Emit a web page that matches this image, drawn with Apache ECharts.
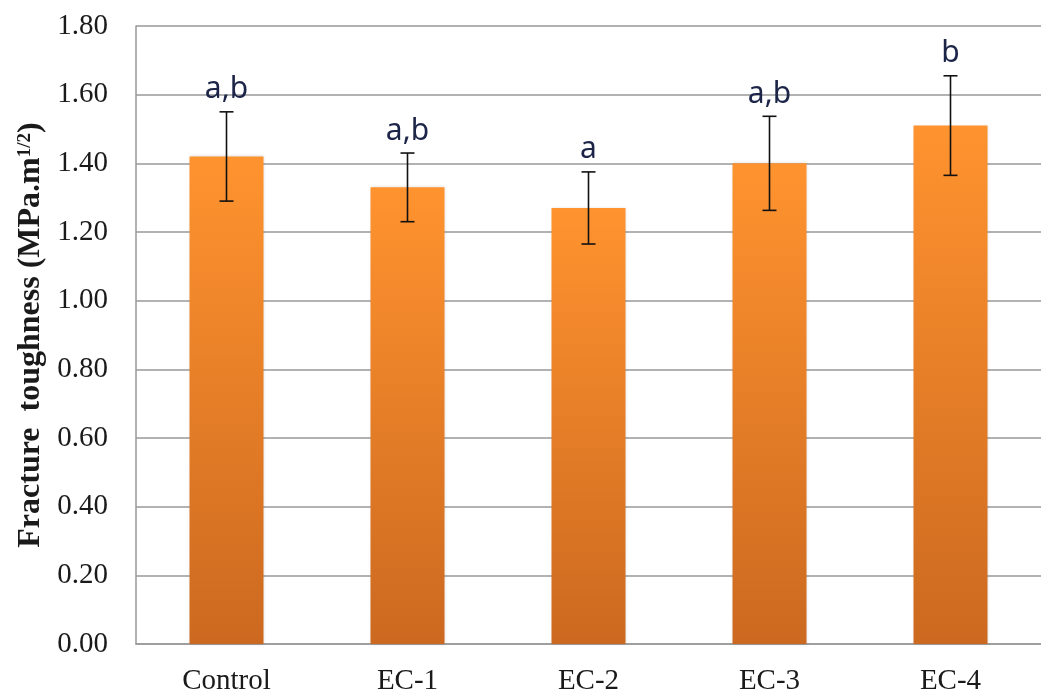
<!DOCTYPE html>
<html>
<head>
<meta charset="utf-8">
<script src="https://cdn.jsdelivr.net/npm/echarts@6/dist/echarts.min.js"></script>
<style>
  html, body { margin: 0; padding: 0; background: #fff; }
  #chart { width: 1041px; height: 699px; }
</style>
</head>
<body>
<div id="chart"></div>
<script>
// data
var categories = ['Control', 'EC-1', 'EC-2', 'EC-3', 'EC-4'];
var means = [1.42, 1.33, 1.27, 1.40, 1.51];
var errors = [0.13, 0.10, 0.105, 0.137, 0.145];
var groups = ['a,b', 'a,b', 'a', 'a,b', 'b'];

var errData = categories.map(function (c, i) {
    return [i, means[i] - errors[i], means[i] + errors[i], groups[i]];
});

var myChart = echarts.init(document.getElementById('chart'));

var option = {
    animation: false,
    backgroundColor: '#fff',
    grid: { left: 136, right: -10, top: 26, bottom: 55 },
    xAxis: {
        type: 'category',
        data: categories,
        axisLine: { lineStyle: { color: '#999', width: 1.5 } },
        axisTick: { show: false },
        axisLabel: {
            fontFamily: 'Liberation Serif',
            fontSize: 29,
            color: '#1a1a1a',
            margin: 23
        }
    },
    yAxis: {
        type: 'value',
        min: 0,
        max: 1.8,
        interval: 0.2,
        name: '{t|Fracture  toughness (MPa.m}{s|1/2}{t|)}',
        nameLocation: 'middle',
        nameGap: 86,
        nameRotate: 90,
        nameTextStyle: {
            fontFamily: 'Liberation Serif',
            fontWeight: 'bold',
            fontSize: 32,
            color: '#1a1a1a',
            rich: {
                t: { fontFamily: 'Liberation Serif', fontWeight: 'bold', fontSize: 32, color: '#1a1a1a', lineHeight: 38 },
                s: { fontFamily: 'Liberation Serif', fontWeight: 'bold', fontSize: 19, color: '#1a1a1a', verticalAlign: 'bottom', padding: [0, 0, 15, 0] }
            }
        },
        axisLine: { show: true, lineStyle: { color: '#999', width: 1.5 } },
        axisTick: { show: false },
        splitLine: { lineStyle: { color: '#999', width: 1.5 } },
        axisLabel: {
            fontFamily: 'Liberation Serif',
            fontSize: 29,
            color: '#1a1a1a',
            margin: 28,
            formatter: function (v) { return v.toFixed(2); }
        }
    },
    series: [
        {
            type: 'bar',
            data: means,
            barWidth: 74,
            itemStyle: {
                color: new echarts.graphic.LinearGradient(0, 0, 0, 1, [
                    { offset: 0, color: '#FF932F' },
                    { offset: 1, color: '#CC6920' }
                ]),
                shadowColor: 'rgba(0,0,0,0.15)',
                shadowBlur: 3
            }
        },
        {
            type: 'custom',
            data: errData,
            z: 5,
            renderItem: function (params, api) {
                var x = api.value(0);
                var lo = api.coord([x, api.value(1)]);
                var hi = api.coord([x, api.value(2)]);
                var cap = 7;
                var st = { stroke: '#111', lineWidth: 1.6 };
                return {
                    type: 'group',
                    children: [
                        { type: 'line', shape: { x1: hi[0], y1: hi[1], x2: lo[0], y2: lo[1] }, style: st },
                        { type: 'line', shape: { x1: hi[0] - cap, y1: hi[1], x2: hi[0] + cap, y2: hi[1] }, style: st },
                        { type: 'line', shape: { x1: lo[0] - cap, y1: lo[1], x2: lo[0] + cap, y2: lo[1] }, style: st },
                        {
                            type: 'text',
                            style: {
                                x: hi[0],
                                y: hi[1] - 7,
                                text: api.value(3),
                                align: 'center',
                                verticalAlign: 'bottom',
                                font: '30px "Noto Sans"',
                                fill: '#1c2448'
                            }
                        }
                    ]
                };
            }
        }
    ]
};

myChart.setOption(option);
</script>
</body>
</html>
